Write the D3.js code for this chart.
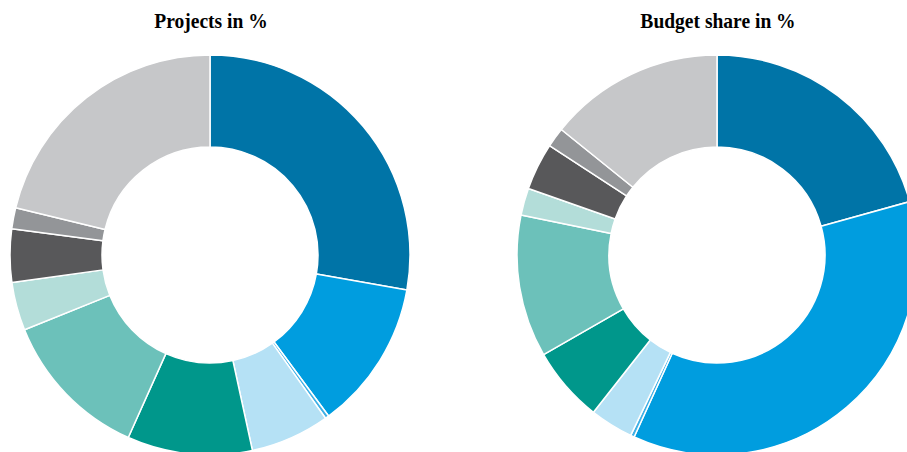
<!DOCTYPE html>
<html>
<head>
<meta charset="utf-8">
<script src="https://cdn.jsdelivr.net/npm/d3@7"></script>
<style>
  body { margin: 0; background: #fff; }
  .title { font-family: "Liberation Serif", "Times New Roman", serif; font-weight: bold; font-size: 21px; fill: #000; }
</style>
</head>
<body>
<script>
// Categories (same order, same colours in both rings)
var categories = ["A", "B", "C", "D", "E", "F", "G", "H", "I", "J"];
var colors = ["#0074a7", "#009ddf", "#3fb0e6", "#b5e1f5", "#00978b", "#6cc1ba", "#b3ddd9", "#58585a", "#939598", "#c6c7c9"];

// Values (percent)
var projects = [27.8, 12.1, 0.3, 6.4, 10.1, 12.2, 3.9, 4.3, 1.7, 21.2];
var budget = [20.7, 36.1, 0.3, 3.5, 6.1, 11.5, 2.2, 3.8, 1.6, 14.2];

var titles = ["Projects in %", "Budget share in %"];

var width = 907, height = 452;
var outerR = 200, innerR = 108;
var centers = [210, 717], cy = 255;

var svg = d3.select("body").append("svg")
    .attr("width", width)
    .attr("height", height);

var pie = d3.pie().sort(null).value(function(d) { return d; });
var arc = d3.arc().innerRadius(innerR).outerRadius(outerR);

[projects, budget].forEach(function(data, i) {
  var g = svg.append("g")
      .attr("transform", "translate(" + centers[i] + "," + cy + ")");

  g.selectAll("path")
      .data(pie(data))
      .enter().append("path")
      .attr("d", arc)
      .attr("fill", function(d, j) { return colors[j]; })
      .attr("stroke", "#fff")
      .attr("stroke-width", 1.5)
      .attr("stroke-linejoin", "round");

  // condensed serif title
  svg.append("text")
      .attr("class", "title")
      .attr("transform", "translate(" + (centers[i] + 1) + ",28) scale(0.93,1)")
      .attr("text-anchor", "middle")
      .text(titles[i]);
});
</script>
</body>
</html>
